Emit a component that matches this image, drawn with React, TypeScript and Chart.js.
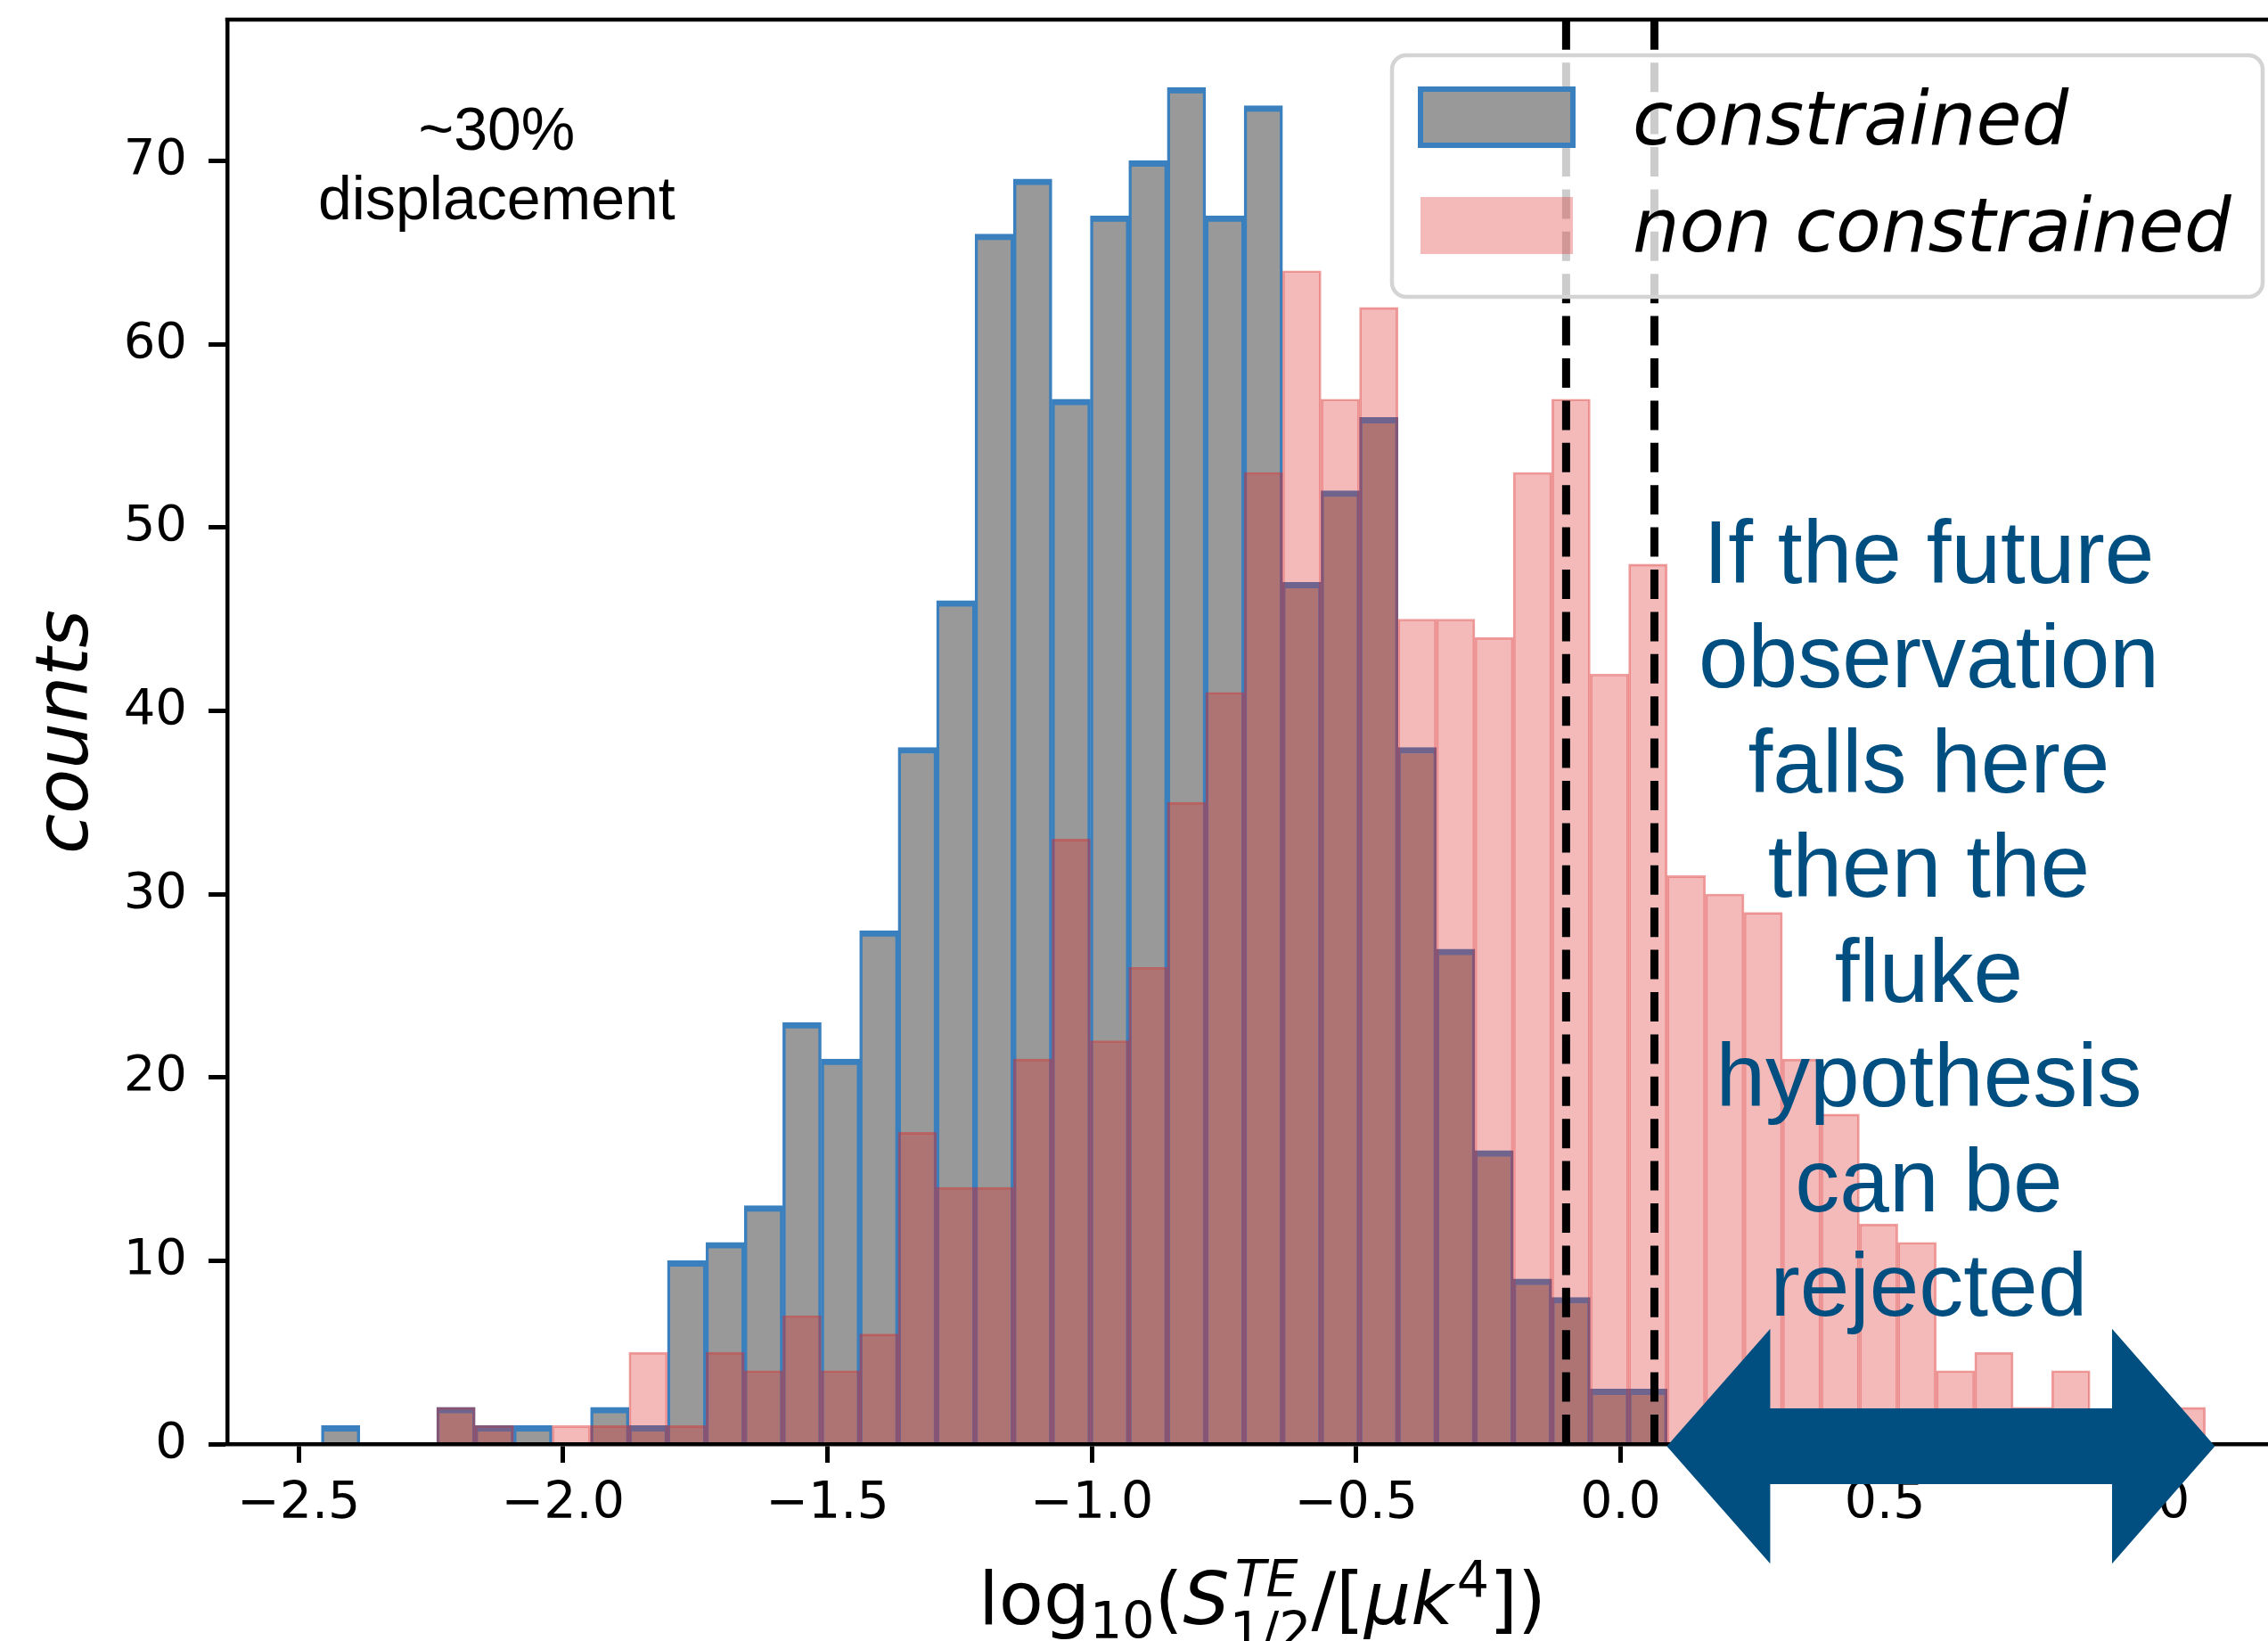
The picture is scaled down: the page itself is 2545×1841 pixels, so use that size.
import React, { useEffect, useRef } from 'react';
import { Chart, registerables } from 'chart.js';

Chart.register(...registerables);

// ---- data ----
const binEdges = [
  -2.457, -2.3843, -2.3115, -2.2389, -2.1661, -2.0934, -2.0207, -1.948, -1.8753, -1.8026,
  -1.7299, -1.6571, -1.5844, -1.5117, -1.439, -1.3663, -1.2936, -1.2209, -1.1481, -1.0754,
  -1.0027, -0.93, -0.8573, -0.7846, -0.7119, -0.6392, -0.5664, -0.4937, -0.421, -0.3483,
  -0.2756, -0.2029, -0.1302, -0.0574, 0.0153, 0.088, 0.1607, 0.2334, 0.3061, 0.3788,
  0.4516, 0.5243, 0.597, 0.6697, 0.7424, 0.8151, 0.8878, 0.9606, 1.0333, 1.106,
];
const constrainedCounts = [
  1, 0, 0, 2, 1, 1, 0, 2, 1, 10, 11, 13, 23, 21, 28, 38, 46, 66, 69, 57,
  67, 70, 74, 67, 73, 47, 52, 56, 38, 27, 16, 9, 8, 3, 3,
];
const nonConstrainedCounts = [
  0, 0, 0, 2, 1, 0, 1, 1, 5, 1, 5, 4, 7, 4, 6, 17, 14, 14, 21, 33,
  22, 26, 35, 41, 53, 64, 57, 62, 45, 45, 44, 53, 57, 42, 48, 31, 30, 29, 21, 18,
  12, 11, 4, 5, 2, 4, 1, 0, 2,
];
const xTickValues = [-2.5, -2.0, -1.5, -1.0, -0.5, 0.0, 0.5, 1.0];
const yTickValues = [0, 10, 20, 30, 40, 50, 60, 70];
const thresholdLines = [-0.103, 0.064];
const legendLabels = ['constrained', 'non constrained'];
const noteLeft = ['~30%', 'displacement'];
const noteRight = ['If the future', 'observation', 'falls here', 'then the', 'fluke', 'hypothesis', 'can be', 'rejected'];

const X_MIN = -2.635;
const X_MAX = 1.28;
const Y_MAX = 77.7;

// annotation anchors (data units)
const noteLeftAnchor = { x: -2.1254, y: [70.6, 66.8] };
const noteRightAnchor = { x: 0.583, y0: 46.97, step: 5.71 };
const arrowSpec = { xL: 0.0875, xLb: 0.283, xRb: 0.9295, xR: 1.124, yc: -0.12, head: 6.41, shaft: 2.07 };

const BLUE_TEXT = '#004f80';
const FONT = '"DejaVu Sans"';

const binCenters = binEdges.slice(0, -1).map((e, i) => (e + binEdges[i + 1]) / 2);

const overlayPlugin = {
  id: 'overlay',
  afterDraw(chart: any) {
    const { ctx, chartArea: ca } = chart;
    const xs = chart.scales.x;
    const ys = chart.scales.y;
    ctx.save();

    // top & right spines
    ctx.strokeStyle = '#000';
    ctx.lineWidth = 4.5;
    ctx.beginPath();
    ctx.moveTo(ca.left - 2.25, ca.top);
    ctx.lineTo(ca.right + 2.25, ca.top);
    ctx.moveTo(ca.right, ca.top);
    ctx.lineTo(ca.right, ca.bottom);
    ctx.stroke();

    // dashed threshold lines
    ctx.setLineDash([33, 14.4]);
    ctx.lineWidth = 9;
    ctx.strokeStyle = '#000';
    thresholdLines.forEach((v) => {
      const px = xs.getPixelForValue(v);
      ctx.beginPath();
      ctx.moveTo(px, ca.bottom);
      ctx.lineTo(px, ca.top);
      ctx.stroke();
    });
    ctx.setLineDash([]);

    // legend
    const lw = 977, lh = 271;
    const bl = ca.right - 39 - lw;
    const bt = ca.top + 40;
    ctx.beginPath();
    (ctx as any).roundRect(bl, bt, lw, lh, 16);
    ctx.fillStyle = 'rgba(255,255,255,0.8)';
    ctx.fill();
    ctx.lineWidth = 4.5;
    ctx.strokeStyle = 'rgb(212,212,212)';
    ctx.stroke();

    ctx.fillStyle = 'rgb(153,153,153)';
    ctx.fillRect(bl + 32, bt + 38, 171, 63);
    ctx.lineWidth = 6;
    ctx.strokeStyle = 'rgb(58,128,190)';
    ctx.strokeRect(bl + 32, bt + 38, 171, 63);
    ctx.fillStyle = 'rgba(220,40,40,0.32)';
    ctx.fillRect(bl + 32, bt + 159, 171, 64);

    ctx.fillStyle = '#000';
    ctx.font = `italic 83px ${FONT}`;
    ctx.textAlign = 'left';
    ctx.textBaseline = 'alphabetic';
    ctx.fillText(legendLabels[0], bl + 270, bt + 100);
    ctx.fillText(legendLabels[1], bl + 270, bt + 220);

    // left note
    ctx.font = '68px "Liberation Sans"';
    ctx.textAlign = 'center';
    ctx.fillStyle = '#000';
    noteLeft.forEach((t, i) => {
      ctx.fillText(t, xs.getPixelForValue(noteLeftAnchor.x), ys.getPixelForValue(noteLeftAnchor.y[i]));
    });

    // right note
    ctx.font = '100px "Liberation Sans"';
    ctx.fillStyle = BLUE_TEXT;
    noteRight.forEach((t, i) => {
      ctx.fillText(t, xs.getPixelForValue(noteRightAnchor.x), ys.getPixelForValue(noteRightAnchor.y0 - i * noteRightAnchor.step));
    });

    // double arrow
    const a = arrowSpec;
    const pxL = xs.getPixelForValue(a.xL), pxLb = xs.getPixelForValue(a.xLb);
    const pxRb = xs.getPixelForValue(a.xRb), pxR = xs.getPixelForValue(a.xR);
    const pyc = ys.getPixelForValue(a.yc);
    const pH = ys.getPixelForValue(a.yc) - ys.getPixelForValue(a.yc + a.head);
    const ph = ys.getPixelForValue(a.yc) - ys.getPixelForValue(a.yc + a.shaft);
    ctx.beginPath();
    ctx.moveTo(pxL, pyc);
    ctx.lineTo(pxLb, pyc - pH);
    ctx.lineTo(pxLb, pyc - ph);
    ctx.lineTo(pxRb, pyc - ph);
    ctx.lineTo(pxRb, pyc - pH);
    ctx.lineTo(pxR, pyc);
    ctx.lineTo(pxRb, pyc + pH);
    ctx.lineTo(pxRb, pyc + ph);
    ctx.lineTo(pxLb, pyc + ph);
    ctx.lineTo(pxLb, pyc + pH);
    ctx.closePath();
    ctx.fillStyle = BLUE_TEXT;
    ctx.fill();

    // y-axis title
    ctx.save();
    ctx.translate(98, (ca.top + ca.bottom) / 2);
    ctx.rotate(-Math.PI / 2);
    ctx.font = `italic 82px ${FONT}`;
    ctx.fillStyle = '#000';
    ctx.textAlign = 'center';
    ctx.fillText('counts', 0, 0);
    ctx.restore();

    // x-axis title (mathtext-like)
    const M = 82, S = 57;
    const up = (s: number) => `${s}px ${FONT}`;
    const it = (s: number) => `italic ${s}px ${FONT}`;
    type Piece = { t: string; f: string; dy: number; dx?: number };
    const items: (Piece | Piece[])[] = [
      { t: 'log', f: up(M), dy: 0 },
      { t: '10', f: up(S), dy: 16 },
      { t: '(', f: up(M), dy: 0 },
      { t: 'S', f: it(M), dy: 0 },
      [
        { t: 'TE', f: it(S), dy: -31, dx: 6 },
        { t: '1/2', f: up(S), dy: 27, dx: 0 },
      ],
      { t: '/', f: up(M), dy: 0 },
      { t: '[', f: up(M), dy: 0 },
      { t: '\u03bc', f: it(M), dy: 0 },
      { t: 'k', f: it(M), dy: 0 },
      { t: '4', f: up(S), dy: -30, dx: 4 },
      { t: ']', f: up(M), dy: 0 },
      { t: ')', f: up(M), dy: 0 },
    ];
    const widthOf = (p: Piece) => {
      ctx.font = p.f;
      return ctx.measureText(p.t).width + (p.dx || 0);
    };
    const itemWidth = (it2: Piece | Piece[]) =>
      Array.isArray(it2) ? Math.max(...it2.map(widthOf)) : widthOf(it2);
    const total = items.reduce((s, it2) => s + itemWidth(it2), 0);
    let cx = (ca.left + ca.right) / 2 - total / 2;
    const base = ca.bottom + 202;
    ctx.fillStyle = '#000';
    ctx.textAlign = 'left';
    items.forEach((it2) => {
      const group = Array.isArray(it2) ? it2 : [it2];
      group.forEach((p) => {
        ctx.font = p.f;
        ctx.fillText(p.t, cx + (p.dx || 0), base + p.dy);
      });
      cx += itemWidth(it2);
    });

    ctx.restore();
  },
};

export default function App() {
  const ref = useRef<HTMLCanvasElement>(null);

  useEffect(() => {
    const canvas = ref.current;
    if (!canvas) return;
    const fmtX = (v: number) => (v < 0 ? '\u2212' + Math.abs(v).toFixed(1) : v.toFixed(1));
    const chart = new Chart(canvas, {
      type: 'bar',
      data: {
        datasets: [
          {
            label: legendLabels[1],
            data: nonConstrainedCounts.map((v, i) => ({ x: binCenters[i], y: v })),
            backgroundColor: 'rgba(220,40,40,0.32)',
            borderColor: 'rgba(220,40,40,0.45)',
            borderWidth: { top: 2, left: 2, right: 2, bottom: 0 },
            grouped: false,
            order: 0,
            barPercentage: 1,
            categoryPercentage: 1,
          } as any,
          {
            label: legendLabels[0],
            data: constrainedCounts.map((v, i) => ({ x: binCenters[i], y: v })),
            backgroundColor: 'rgb(153,153,153)',
            borderColor: 'rgb(58,128,190)',
            borderWidth: { top: 7, left: 3.5, right: 3.5, bottom: 0 },
            grouped: false,
            order: 1,
            barPercentage: 1,
            categoryPercentage: 1,
          } as any,
        ],
      },
      options: {
        animation: false,
        responsive: false,
        devicePixelRatio: 1,
        layout: { padding: { top: 22, right: 22, left: 0, bottom: 0 } },
        plugins: { legend: { display: false }, tooltip: { enabled: false } },
        scales: {
          x: {
            type: 'linear',
            min: X_MIN,
            max: X_MAX,
            offset: false,
            grid: {
              display: true,
              offset: false,
              drawOnChartArea: false,
              drawTicks: true,
              tickLength: 21,
              tickWidth: 5,
              tickColor: '#000',
            },
            border: { display: true, color: '#000', width: 4.5, z: 1 },
            ticks: {
              color: '#000',
              font: { family: 'DejaVu Sans', size: 57 },
              padding: 13,
              maxRotation: 0,
              minRotation: 0,
              autoSkip: false,
              callback: (v: any) => fmtX(Number(v)),
            },
            afterBuildTicks: (s: any) => {
              s.ticks = xTickValues.map((v) => ({ value: v }));
            },
            afterFit: (s: any) => {
              s.height = 221;
              s.paddingLeft = 0;
              s.paddingRight = 0;
              s.paddingTop = 0;
              s.paddingBottom = 0;
            },
          },
          y: {
            type: 'linear',
            min: 0,
            max: Y_MAX,
            grid: {
              display: true,
              drawOnChartArea: false,
              drawTicks: true,
              tickLength: 21,
              tickWidth: 5,
              tickColor: '#000',
            },
            border: { display: true, color: '#000', width: 4.5, z: 1 },
            ticks: {
              color: '#000',
              font: { family: 'DejaVu Sans', size: 56 },
              padding: 24,
              autoSkip: false,
              callback: (v: any) => String(v),
            },
            afterBuildTicks: (s: any) => {
              s.ticks = yTickValues.map((v) => ({ value: v }));
            },
            afterFit: (s: any) => {
              s.width = 255;
              s.paddingLeft = 0;
              s.paddingRight = 0;
              s.paddingTop = 0;
              s.paddingBottom = 0;
            },
          },
        },
      } as any,
      plugins: [overlayPlugin],
    });
    return () => chart.destroy();
  }, []);

  return (
    <div
      style={{
        position: 'absolute',
        left: 0,
        top: 0,
        width: 2545,
        height: 1841,
        overflow: 'hidden',
        background: '#fff',
      }}
    >
      <canvas ref={ref} width={2600} height={1841} style={{ display: 'block', width: '2600px', height: '1841px' }} />
    </div>
  );
}
